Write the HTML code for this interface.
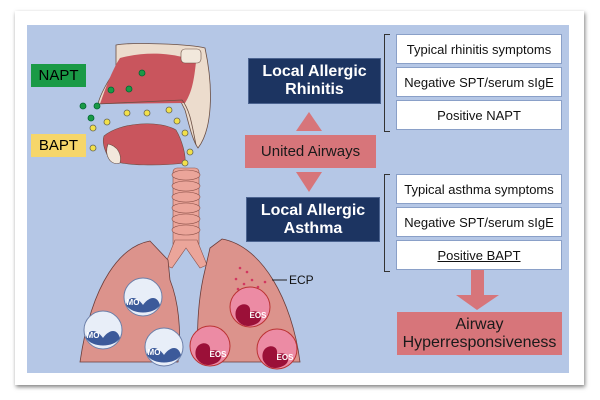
<!DOCTYPE html>
<html><head><meta charset="utf-8"><style>
body{margin:0;width:600px;height:400px;background:#fff;overflow:hidden;font-family:"Liberation Sans",sans-serif}
.card{position:absolute;left:15px;top:11px;width:569px;height:374px;background:#fff;box-shadow:1px 2px 4px rgba(0,0,0,.5)}
.panel{position:absolute;left:27px;top:25px;width:542px;height:348px;background:#b5c7e6}
.b{position:absolute;box-sizing:border-box;display:flex;align-items:center;justify-content:center;text-align:center}
.navy{background:#1c3461;color:#fff;font-weight:bold;font-size:16px;line-height:18px;border:1px solid #4b6390}
.w{background:#fff;border:1px solid #8aa0c8;font-size:13px;color:#111}
.pink{background:#d7757a;color:#1a1a1a;font-size:15px}
.br{position:absolute;border:1px solid #333;border-right:none;width:5px}
</style></head><body>
<div class="card"></div>
<div class="panel"></div>
<svg width="600" height="400" style="position:absolute;left:0;top:0">
<path d="M116,45 C130,42 190,44 205,48 C214,90 212,130 198,148 C192,140 188,120 185,110 L180,100 C150,100 110,102 98,104 C100,95 108,80 116,70 Z" fill="#ecdccd" stroke="#6b4f44" stroke-width="0.8"/>
<path d="M120,58 C150,50 180,54 196,62 C194,80 192,92 185,103 L100,104 C104,92 112,70 120,58Z" fill="#c9555d"/>
<rect x="181" y="49" width="20" height="14" rx="4" fill="#f2e8dc" stroke="#6b4f44" stroke-width="0.6"/>
<path d="M98,104 L182,100 C190,110 192,125 196,145" fill="none" stroke="#6b4f44" stroke-width="0.8"/>
<path d="M104,136 C120,122 160,120 176,130 C182,140 186,155 185,163 C160,166 125,166 110,160 C104,150 102,142 104,136Z" fill="#c9555d" stroke="#6b4f44" stroke-width="0.6"/>
<path d="M108,144 C104,155 110,166 120,163 C122,155 118,146 108,144Z" fill="#f2e8dc" stroke="#6b4f44" stroke-width="0.6"/>
<g fill="#1a9a46" stroke="#063" stroke-width="0.8">
<circle cx="142" cy="73" r="3"/><circle cx="111" cy="90" r="3"/><circle cx="129" cy="89" r="3"/>
<circle cx="83" cy="106" r="3"/><circle cx="97" cy="106" r="3"/><circle cx="91" cy="118" r="3"/></g>
<g fill="#f2e04a" stroke="#665" stroke-width="0.8">
<circle cx="93" cy="128" r="3"/><circle cx="93" cy="148" r="3"/><circle cx="107" cy="122" r="3"/><circle cx="127" cy="113" r="3"/>
<circle cx="147" cy="113" r="3"/><circle cx="169" cy="110" r="3"/><circle cx="177" cy="121" r="3"/><circle cx="185" cy="133" r="3"/>
<circle cx="190" cy="152" r="3"/><circle cx="185" cy="163" r="3"/></g>
<g fill="#eba59a" stroke="#8c5048" stroke-width="0.6">
<rect x="173" y="168" width="26" height="80" rx="4"/>
<ellipse cx="186" cy="175" rx="14" ry="5"/><ellipse cx="186" cy="186" rx="14" ry="5"/><ellipse cx="186" cy="197" rx="14" ry="5"/>
<ellipse cx="186" cy="208" rx="14" ry="5"/><ellipse cx="186" cy="219" rx="14" ry="5"/><ellipse cx="186" cy="230" rx="14" ry="5"/>
<path d="M175,240 L165,265 L172,268 L186,248 L200,268 L207,265 L197,240Z"/></g>
<path d="M150,241 C122,246 92,280 80,362 L178,362 C182,330 178,300 170,280 L168,260 Z" fill="#dc938c" stroke="#6b3d3a" stroke-width="0.8"/>
<path d="M222,239 C262,246 292,300 300,362 L198,362 C196,320 200,290 205,270 L210,248Z" fill="#dc938c" stroke="#6b3d3a" stroke-width="0.8"/>
<g fill="#d23760"><circle cx="240" cy="268" r="1.3"/><circle cx="247" cy="272" r="1.3"/><circle cx="236" cy="279" r="1.3"/><circle cx="252" cy="280" r="1.3"/><circle cx="244" cy="284" r="1.3"/><circle cx="258" cy="287" r="1.3"/><circle cx="238" cy="289" r="1.3"/><circle cx="265" cy="282" r="1.3"/></g>
<line x1="272" y1="280" x2="287" y2="280" stroke="#222"/>
<text x="289" y="284" font-size="12" fill="#111">ECP</text>
<g font-size="8" font-weight="bold" fill="#fff" text-anchor="middle">
<g><circle cx="143" cy="297" r="19" fill="#e8eef8" stroke="#6b7ea8"/><path d="M126,305 C130,292 140,300 143,305 C146,300 156,292 160,305 C154,315 132,315 126,305Z" fill="#3c5a9a"/><text x="133" y="305" fill="#fff">MO</text></g>
<g><circle cx="103" cy="330" r="19" fill="#e8eef8" stroke="#6b7ea8"/><path d="M86,338 C90,325 100,333 103,338 C106,333 116,325 120,338 C114,348 92,348 86,338Z" fill="#3c5a9a"/><text x="93" y="338" fill="#fff">MO</text></g>
<g><circle cx="164" cy="347" r="19" fill="#e8eef8" stroke="#6b7ea8"/><path d="M147,355 C151,342 161,350 164,355 C167,350 177,342 181,355 C175,365 153,365 147,355Z" fill="#3c5a9a"/><text x="154" y="355" fill="#fff">MO</text></g>
<g><circle cx="250" cy="307" r="20" fill="#ec8ba4" stroke="#b33"/><path d="M236,318 C232,302 252,300 250,312 C262,308 265,320 256,324 C248,328 240,326 236,318Z" fill="#9b1038"/><text x="258" y="318" fill="#fff">EOS</text></g>
<g><circle cx="210" cy="346" r="20" fill="#ec8ba4" stroke="#b33"/><path d="M196,357 C192,341 212,339 210,351 C222,347 225,359 216,363 C208,367 200,365 196,357Z" fill="#9b1038"/><text x="218" y="357" fill="#fff">EOS</text></g>
<g><circle cx="277" cy="349" r="20" fill="#ec8ba4" stroke="#b33"/><path d="M263,360 C259,344 279,342 277,354 C289,350 292,362 283,366 C275,370 267,368 263,360Z" fill="#9b1038"/><text x="285" y="360" fill="#fff">EOS</text></g>
</g>
<polygon points="309,112 322,131 296,131" fill="#d7757a"/>
<polygon points="296,172 322,172 309,192" fill="#d7757a"/>
<rect x="471" y="270" width="13" height="26" fill="#d7757a"/>
<polygon points="456,295 499,295 477,310" fill="#d7757a"/>
</svg>
<div class="b" style="left:31px;top:64px;width:55px;height:23px;background:#1a9a46;font-size:15px">NAPT</div>
<div class="b" style="left:31px;top:134px;width:55px;height:23px;background:#f6d66a;font-size:15px">BAPT</div>
<div class="b navy" style="left:248px;top:58px;width:133px;height:46px">Local Allergic<br>Rhinitis</div>
<div class="b pink" style="left:245px;top:135px;width:131px;height:33px">United Airways</div>
<div class="b navy" style="left:246px;top:197px;width:134px;height:45px">Local Allergic<br>Asthma</div>
<div class="br" style="left:384px;top:34px;height:96px"></div>
<div class="br" style="left:384px;top:174px;height:96px"></div>
<div class="b w" style="left:396px;top:34px;width:166px;height:30px">Typical rhinitis symptoms</div>
<div class="b w" style="left:396px;top:67px;width:166px;height:30px">Negative SPT/serum sIgE</div>
<div class="b w" style="left:396px;top:100px;width:166px;height:30px">Positive NAPT</div>
<div class="b w" style="left:396px;top:174px;width:166px;height:30px">Typical asthma symptoms</div>
<div class="b w" style="left:396px;top:207px;width:166px;height:30px">Negative SPT/serum sIgE</div>
<div class="b w" style="left:396px;top:240px;width:166px;height:30px;text-decoration:underline">Positive BAPT</div>
<div class="b pink" style="left:397px;top:312px;width:165px;height:43px;font-size:16px;line-height:18px">Airway<br>Hyperresponsiveness</div>
</body></html>
